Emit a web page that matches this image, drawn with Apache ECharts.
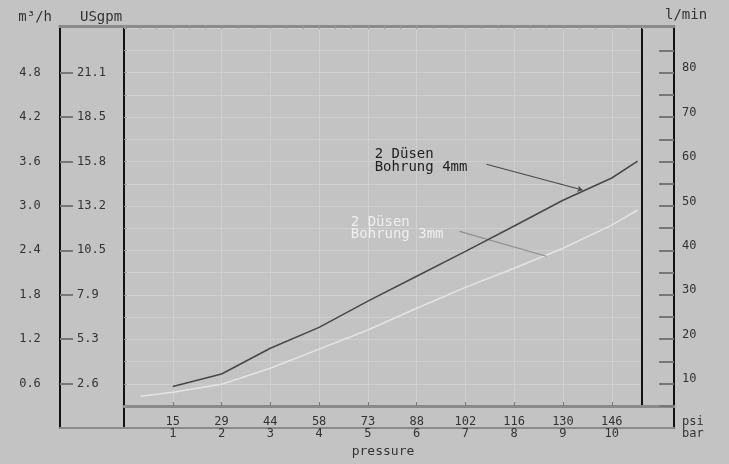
<!DOCTYPE html>
<html><head><meta charset="utf-8">
<script src="https://cdn.jsdelivr.net/npm/echarts@6/dist/echarts.min.js"></script>
<style>html,body{margin:0;padding:0;background:#c3c3c3}#c{width:729px;height:464px}</style>
</head><body><div id="c"></div>
<script>
// ---- data ----
const barTicks = [1, 2, 3, 4, 5, 6, 7, 8, 9, 10];
const psiLabels = ['15', '29', '44', '58', '73', '88', '102', '116', '130', '146'];
const lpmTicks = [10, 20, 30, 40, 50, 60, 70, 80];
const lpmMinorTicks = [5, 10, 15, 20, 25, 30, 35, 40, 45, 50, 55, 60, 65, 70, 75, 80, 85];
const m3hLabels = ['0.6', '1.2', '1.8', '2.4', '3.0', '3.6', '4.2', '4.8'];
const usgpmLabels = ['2.6', '5.3', '7.9', '10.5', '13.2', '15.8', '18.5', '21.1'];
const bar4mm = [1, 2, 3, 4, 5, 6, 7, 8, 9, 10, 10.53];
const flow4mm = [9.4, 12.2, 18.0, 22.7, 28.6, 34.2, 39.8, 45.5, 51.3, 56.3, 60.1];
const bar3mm = [0.34, 1, 2, 3, 4, 5, 6, 7, 8, 9, 10, 10.53];
const flow3mm = [7.2, 8.1, 9.9, 13.5, 17.8, 22.1, 27.0, 31.7, 36.0, 40.5, 45.7, 49.1];
const label4mm = '2 Düsen\nBohrung 4mm';
const label3mm = '2 Düsen\nBohrung 3mm';

// ---- styles ----
const MONO = '"DejaVu Sans Mono", monospace';
const TXT = '#333333';
const GRIDC = '#cfcfcf';
const BLACK = '#111111';
const GREYL = '#8a8a8a';

const chart = echarts.init(document.getElementById('c'), null, {renderer: 'canvas'});
const none = {show: false};
const line = (color, width) => ({show: true, onZero: false, lineStyle: {color: color, width: width}});
const noLine = {show: false, onZero: false};

const option = {
  backgroundColor: '#c3c3c3',
  animation: false,
  textStyle: {fontFamily: MONO, color: TXT},
  grid: [
    {left: 60, width: 614, top: 26, height: 402},   // 0 outer frame
    {left: 124, width: 518, top: 26, height: 380},  // 1 plot
    {left: 124, width: 550, top: 26, height: 402},  // 2 inner left line
    {left: 124, width: 550, top: 26, height: 380}   // 3 line at plot bottom
  ],
  xAxis: [
    { // 0 outer bottom
      gridIndex: 0, type: 'value', min: 0, max: 1, position: 'bottom',
      axisLine: line(GREYL, 2),
      axisTick: none, axisLabel: none, splitLine: none,
      name: 'psi\nbar', nameLocation: 'end', nameGap: 8,
      nameTextStyle: {fontFamily: MONO, fontSize: 12, color: TXT, lineHeight: 12, align: 'left', verticalAlign: 'middle'}
    },
    { // 1 outer top
      gridIndex: 0, type: 'value', min: 0, max: 1, position: 'top',
      axisLine: line(GREYL, 3),
      axisTick: none, axisLabel: none, splitLine: none
    },
    { // 2 plot data axis
      gridIndex: 1, type: 'value', min: 0, max: 10.62, interval: 1 / 3, position: 'bottom',
      axisLine: noLine,
      axisTick: {show: true, inside: true, length: 4, customValues: barTicks, lineStyle: {color: '#7a7a7a', width: 1}},
      axisLabel: none,
      splitLine: {show: true, lineStyle: {color: GRIDC, width: 1}}
    },
    { // 3 psi / bar labels
      gridIndex: 1, type: 'value', min: 0, max: 10.62, position: 'bottom', offset: 10,
      axisLine: noLine, axisTick: none, splitLine: none,
      axisLabel: {
        show: true, margin: 0, customValues: barTicks,
        formatter: v => '{p|' + psiLabels[barTicks.indexOf(v)] + '}\n{b|' + v + '}',
        rich: {
          p: {fontFamily: MONO, fontSize: 12, color: TXT, lineHeight: 12},
          b: {fontFamily: MONO, fontSize: 12, color: TXT, lineHeight: 12}
        }
      },
      name: 'pressure', nameLocation: 'middle', nameGap: 22,
      nameTextStyle: {fontFamily: MONO, fontSize: 13, color: TXT}
    },
    { // 4 plot top small ticks
      gridIndex: 1, type: 'value', min: 0, max: 10.62, interval: 1 / 3, position: 'top',
      axisLine: noLine, axisLabel: none, splitLine: none,
      axisTick: {show: true, inside: true, length: 3, lineStyle: {color: '#9a9a9a'}}
    },
    { // 5 inner left line grid x (hidden)
      gridIndex: 2, type: 'value', min: 0, max: 1, show: false
    },
    { // 6 plot-bottom grey line, extends to right frame
      gridIndex: 3, type: 'value', min: 0, max: 1, position: 'bottom',
      axisLine: line(GREYL, 3),
      axisTick: none, axisLabel: none, splitLine: none
    }
  ],
  yAxis: [
    { // 0 USgpm
      gridIndex: 0, type: 'value', min: 0, max: 90.5, position: 'left',
      axisLine: line(BLACK, 2),
      axisTick: {show: true, inside: true, length: 13, customValues: lpmTicks, lineStyle: {color: '#777777', width: 2}},
      axisLabel: {show: true, inside: true, margin: 17, customValues: lpmTicks,
        formatter: v => usgpmLabels[lpmTicks.indexOf(v)], fontFamily: MONO, fontSize: 12, color: TXT},
      splitLine: none,
      name: 'USgpm', nameLocation: 'end', nameGap: 2,
      nameTextStyle: {fontFamily: MONO, fontSize: 14, color: TXT, align: 'left', verticalAlign: 'bottom', padding: [0, 0, 0, 20]}
    },
    { // 1 m3/h
      gridIndex: 0, type: 'value', min: 0, max: 90.5, position: 'left',
      axisLine: noLine, axisTick: none, splitLine: none,
      axisLabel: {show: true, margin: 30, align: 'center', customValues: lpmTicks,
        formatter: v => m3hLabels[lpmTicks.indexOf(v)], fontFamily: MONO, fontSize: 12, color: TXT},
      name: 'm³/h', nameLocation: 'end', nameGap: 2,
      nameTextStyle: {fontFamily: MONO, fontSize: 14, color: TXT, align: 'right', verticalAlign: 'bottom', padding: [0, 8, 0, 0]}
    },
    { // 2 l/min
      gridIndex: 0, type: 'value', min: 0, max: 90.5, position: 'right',
      axisLine: line(BLACK, 2),
      axisTick: {show: true, inside: true, length: 15, customValues: lpmMinorTicks, lineStyle: {color: '#777777', width: 2}},
      axisLabel: {show: true, margin: 8, customValues: lpmTicks, verticalAlign: 'bottom', lineHeight: 9,
        fontFamily: MONO, fontSize: 12, color: TXT},
      splitLine: none
    },
    { // 3 plot data axis (l/min)
      gridIndex: 1, type: 'value', min: 5, max: 90.5, interval: 5, position: 'left',
      axisLine: noLine, axisLabel: none,
      axisTick: {show: true, inside: true, length: 3, lineStyle: {color: '#9a9a9a'}},
      splitLine: {show: true, lineStyle: {color: GRIDC, width: 1}}
    },
    { // 4 plot right black line
      gridIndex: 1, type: 'value', min: 5, max: 90.5, position: 'right',
      axisLine: line(BLACK, 2),
      axisTick: none, axisLabel: none, splitLine: none,
      name: 'l/min', nameLocation: 'end', nameGap: 4,
      nameTextStyle: {fontFamily: MONO, fontSize: 14, color: TXT, align: 'left', verticalAlign: 'bottom', padding: [0, 0, 0, 23]}
    },
    { // 5 inner left black line
      gridIndex: 2, type: 'value', min: 0, max: 1, position: 'left',
      axisLine: line(BLACK, 2),
      axisTick: none, axisLabel: none, splitLine: none
    },
    { // 6 hidden
      gridIndex: 3, type: 'value', min: 0, max: 1, show: false
    }
  ],
  series: [
    {
      name: 'Bohrung 4mm', type: 'line', xAxisIndex: 2, yAxisIndex: 3,
      data: bar4mm.map((b, i) => [b, flow4mm[i]]),
      symbol: 'none', smooth: false, z: 5,
      lineStyle: {color: '#474747', width: 1.5},
      markLine: {
        silent: true, symbol: ['none', 'arrow'], symbolSize: 5,
        label: none,
        lineStyle: {color: '#4a4a4a', width: 1.2, type: 'solid'},
        data: [[{coord: [7.43, 59.4]}, {coord: [9.40, 53.6]}]]
      },
      markPoint: {
        silent: true,
        data: [{coord: [5.15, 60.1], symbol: 'rect', symbolSize: 1, itemStyle: {color: 'rgba(0,0,0,0)'},
          label: {show: true, position: [0, 0], align: 'left', verticalAlign: 'middle',
            formatter: label4mm, fontFamily: MONO, fontSize: 14, lineHeight: 12.5, color: '#222222'}}]
      }
    },
    {
      name: 'Bohrung 3mm', type: 'line', xAxisIndex: 2, yAxisIndex: 3,
      data: bar3mm.map((b, i) => [b, flow3mm[i]]),
      symbol: 'none', smooth: false, z: 4,
      lineStyle: {color: '#e4e4e4', width: 1.5},
      markLine: {
        silent: true, symbol: ['none', 'none'],
        label: none,
        lineStyle: {color: '#8e8e8e', width: 1.2, type: 'solid'},
        data: [[{coord: [6.88, 44.3]}, {coord: [8.66, 38.7]}]]
      },
      markPoint: {
        silent: true,
        data: [{coord: [4.66, 44.9], symbol: 'rect', symbolSize: 1, itemStyle: {color: 'rgba(0,0,0,0)'},
          label: {show: true, position: [0, 0], align: 'left', verticalAlign: 'middle',
            formatter: label3mm, fontFamily: MONO, fontSize: 14, lineHeight: 12.5, color: '#efefef'}}]
      }
    }
  ]
};
chart.setOption(option);
</script>
</body></html>
